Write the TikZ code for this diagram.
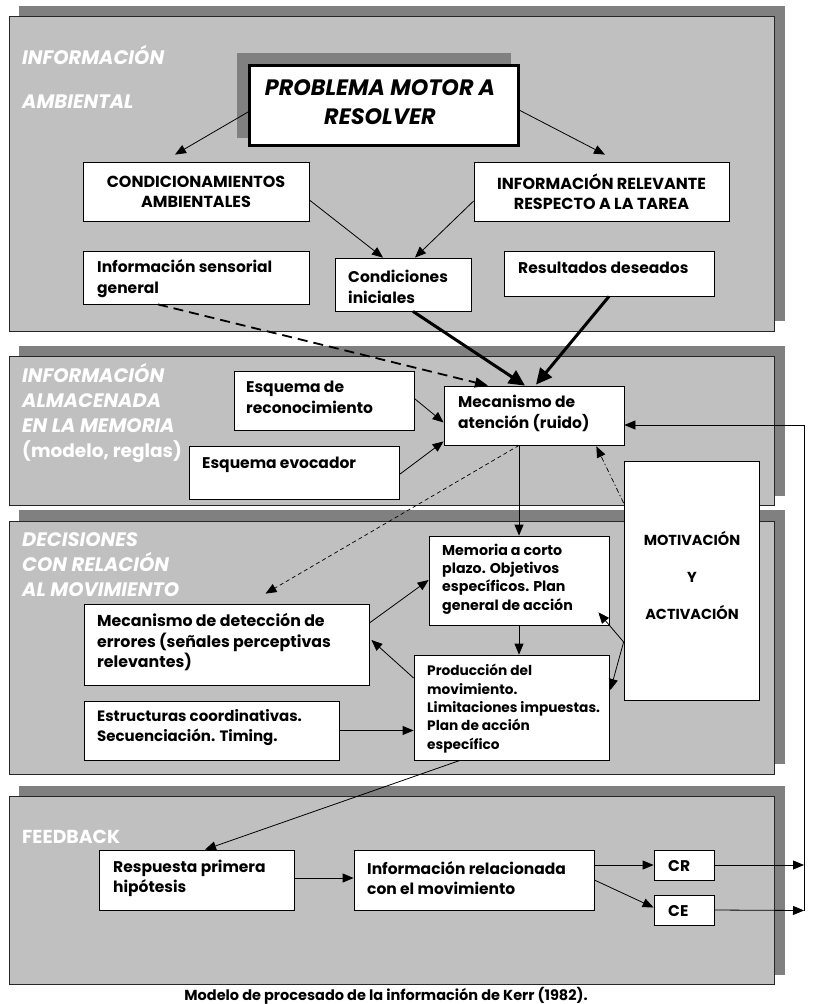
\documentclass[tikz,border=0pt]{standalone}
\usepackage{fontspec}
\setmainfont{Poppins}
\usetikzlibrary{arrows.meta,fit,calc}
\definecolor{panelfill}{HTML}{C0C0C0}
\definecolor{panelshadow}{HTML}{808080}
\begin{document}
\begin{tikzpicture}[x=1pt,y=-1pt,
  pshadow/.style={fill=panelshadow,draw=none},
  panel/.style={fill=panelfill,draw=black!85,line width=0.9pt},
  box/.style={draw=black,fill=white,line width=0.8pt,inner sep=0pt},
  txt/.style={font=\bfseries\fontsize{15.5}{21}\selectfont,align=left,inner sep=0pt,anchor=west},
  capstxt/.style={font=\bfseries\fontsize{16}{20}\selectfont,align=center,inner sep=0pt},
  captxt/.style={font=\bfseries\fontsize{14.5}{20}\selectfont,align=center,inner sep=0pt},
  smalltxt/.style={font=\bfseries\fontsize{13.7}{18.3}\selectfont,align=left,inner sep=0pt,anchor=west},
  ttl/.style={text=white,font=\bfseries\itshape\fontsize{19.5}{25}\selectfont,align=left,inner sep=0pt,anchor=west},
  arr/.style={-{Triangle[length=11pt,width=9pt]},line width=0.8pt},
  thickarr/.style={-{Triangle[length=16pt,width=15pt]},line width=3pt},
  dasharr/.style={-{Triangle[length=13pt,width=10pt]},line width=1.8pt,dash pattern=on 10pt off 6pt},
  thindash/.style={-{Triangle[length=11pt,width=9pt]},line width=0.7pt,dash pattern=on 4pt off 3pt},
  dotdash/.style={-{Triangle[length=11pt,width=9pt]},line width=0.7pt,dash pattern=on 5pt off 2.5pt on 1.5pt off 2.5pt}
]
\useasboundingbox (0,0) rectangle (826,1004);
\fill[white] (0,0) rectangle (826,1004);

% panels
\fill[pshadow] (19,6) rectangle (785,321);
\draw[panel] (9,16) rectangle (774,331);
\fill[pshadow] (19,346) rectangle (785,496);
\draw[panel] (9,356) rectangle (774,505);
\fill[pshadow] (19,510) rectangle (785,764);
\draw[panel] (9,521) rectangle (774,774);
\fill[pshadow] (19,786) rectangle (785,975);
\draw[panel] (9,796) rectangle (774,984);

% panel titles
\node[ttl,font=\bfseries\itshape\fontsize{19.5}{44}\selectfont] (t1) at (22,77) {INFORMACIÓN\\AMBIENTAL};
\node[ttl] (t2) at (22,412.5) {INFORMACIÓN\\ALMACENADA\\EN LA MEMORIA\\\upshape\fontsize{18.5}{25}\selectfont(modelo, reglas)};
\node[ttl] (t3) at (22,565) {DECISIONES\\CON RELACIÓN\\AL MOVIMIENTO};
\node[ttl,font=\bfseries\fontsize{18.8}{25}\selectfont] (t4) at (22,837) {FEEDBACK};

% problem box
\fill[pshadow] (237,53) rectangle (511,138);
\node[box,line width=3pt,fit={(249.5,65.5) (518.5,145.5)}] (prob) {};
\node[font=\bfseries\itshape\fontsize{22.3}{29}\selectfont,align=center,inner sep=0pt] (probt) at (380,102) {PROBLEMA MOTOR A\\RESOLVER};

% boxes
\node[box,fit={(83,162) (309,221)}] (condam) {};
\node[capstxt] (condamt) at (condam.center) {CONDICIONAMIENTOS\\AMBIENTALES};
\node[box,fit={(474,162) (729,221)}] (inforel) {};
\node[capstxt] (inforelt) at (inforel.center) {INFORMACIÓN RELEVANTE\\RESPECTO A LA TAREA};
\node[box,fit={(83,251) (309,304)}] (sens) {};
\node[txt] (senst) at (97,279) {Información sensorial\\general};
\node[box,fit={(335,258) (471,311)}] (condini) {};
\node[txt] (condinit) at (348,287) {Condiciones\\iniciales};
\node[box,fit={(504,251) (714,296)}] (resdes) {};
\node[txt] (resdest) at (518,268) {Resultados deseados};

\node[box,fit={(444,386) (624,445)}] (mec) {};
\node[txt] (mect) at (458,413) {Mecanismo de\\atención (ruido)};
\node[box,fit={(234,371) (414,430)}] (esqr) {};
\node[txt] (esqrt) at (246,397.5) {Esquema de\\reconocimiento};
\node[box,fit={(189,446) (399,499)}] (esqe) {};
\node[txt] (esqet) at (202,465) {Esquema evocador};

\node[box,fit={(624,461) (759,700)}] (mot) {};
\node[font=\bfseries\fontsize{14.5}{37}\selectfont,align=center,inner sep=0pt] (mott) at (692,575) {MOTIVACIÓN\\Y\\ACTIVACIÓN};

\node[box,fit={(429,536) (609,625)}] (mem) {};
\node[smalltxt,font=\bfseries\fontsize{14.2}{18.3}\selectfont] (memt) at (442,579) {Memoria a corto\\plazo. Objetivos\\específicos. Plan\\general de acción};
\node[box,fit={(414,655) (609,760)}] (prod) {};
\node[smalltxt] (prodt) at (427,708.5) {Producción del\\movimiento.\\Limitaciones impuestas.\\Plan de acción\\específico};
\node[box,fit={(84,604) (369,685)}] (det) {};
\node[txt,font=\bfseries\fontsize{15.8}{20.5}\selectfont] (dett) at (97,642.5) {Mecanismo de detección de\\errores (señales perceptivas\\relevantes)};
\node[box,fit={(84,701) (339,760)}] (estr) {};
\node[txt,font=\bfseries\fontsize{15}{20}\selectfont] (estrt) at (97,728) {Estructuras coordinativas.\\Secuenciación. Timing.};

\node[box,fit={(99,850) (294,910)}] (resp) {};
\node[txt,font=\bfseries\fontsize{15.5}{20}\selectfont] (respt) at (113,878) {Respuesta primera\\hipótesis};
\node[box,fit={(354,850) (594,910)}] (infrel) {};
\node[txt,font=\bfseries\fontsize{15.5}{20}\selectfont] (infrelt) at (367,878) {Información relacionada\\con el movimiento};
\node[box,fit={(654,850) (714,880)}] (cr) {};
\node[txt] (crt) at (668,866) {CR};
\node[box,fit={(654,895) (714,925)}] (ce) {};
\node[txt] (cet) at (668,911) {CE};

% caption
\node[captxt] (cap) at (386,996) {Modelo de procesado de la información de Kerr (1982).};

% coordinates for feedback loop
\coordinate (fbtop) at (804,425);
\coordinate (fbcr) at (804,865);
\coordinate (fbce) at (804,910.5);

% connectors
\draw[arr] ($(prob.west)+(0,6.5)$) -- ($(condam.north)+(-21,-7)$);
\draw[arr] ($(prob.east)+(0,5)$) -- ($(inforel.north)+(3.5,-7)$);
\draw[arr] ($(condam.east)+(0,8.5)$) -- ($(condini.north)+(-20,0)$);
\draw[arr] ($(inforel.west)+(0,9.5)$) -- ($(condini.north)+(12,0)$);
\draw[dasharr] ($(sens.south)+(-38,0)$) -- ($(mec.north)+(-46,0)$);
\draw[thickarr] ($(condini.south)+(10,0)$) -- ($(mec.north)+(-9,0)$);
\draw[thickarr] (resdes.south) -- ($(mec.north)+(2,-1)$);
\draw[arr] ($(esqr.east)+(0,-2)$) -- ($(mec.west)+(0,7)$);
\draw[arr] ($(esqe.east)+(0,2)$) -- ($(mec.south west)+(0,-4)$);
\draw[arr] ($(mec.south)+(-15,0)$) -- (mem.north);
\draw[thindash] ($(mec.south)+(-15,0)$) -- ($(det.north)+(39,-10)$);
\draw[dotdash] ($(mot.west)+(0,-77.5)$) -- ($(mec.south east)+(-28,1)$);
\draw[arr] (fbce) -- (fbtop) -- ($(mec.east)+(0,9.5)$);
\draw[arr] (mem.south) -- (mem.south |- prod.north);
\draw[arr] ($(det.east)+(0,-21.5)$) -- ($(mem.west)+(0,-0.5)$);
\draw[arr] ($(prod.west)+(0,-29.5)$) -- ($(det.east)+(2,-4.5)$);
\draw[arr] (estr.east) -- (prod.west |- estr.east);
\draw[arr] ($(mot.west)+(0,61.5)$) -- ($(mem.south east)+(-11,-13)$);
\draw[arr] ($(mot.west)+(0,61.5)$) -- ($(prod.east)+(1,-17.5)$);
\draw[arr] ($(prod.south)+(-51.5,0)$) -- ($(resp.north)+(8.5,0)$);
\draw[arr] ($(resp.east)+(0,-2)$) -- ($(infrel.west)+(0,-2)$);
\draw[arr] ($(infrel.east)+(0,-15)$) -- (cr.west);
\draw[arr] (infrel.east) -- ($(ce.west)+(0,-2.5)$);
\draw[arr] (cr.east) -- (fbcr);
\draw[arr] (ce.east) -- (fbce);
\end{tikzpicture}
\end{document}
